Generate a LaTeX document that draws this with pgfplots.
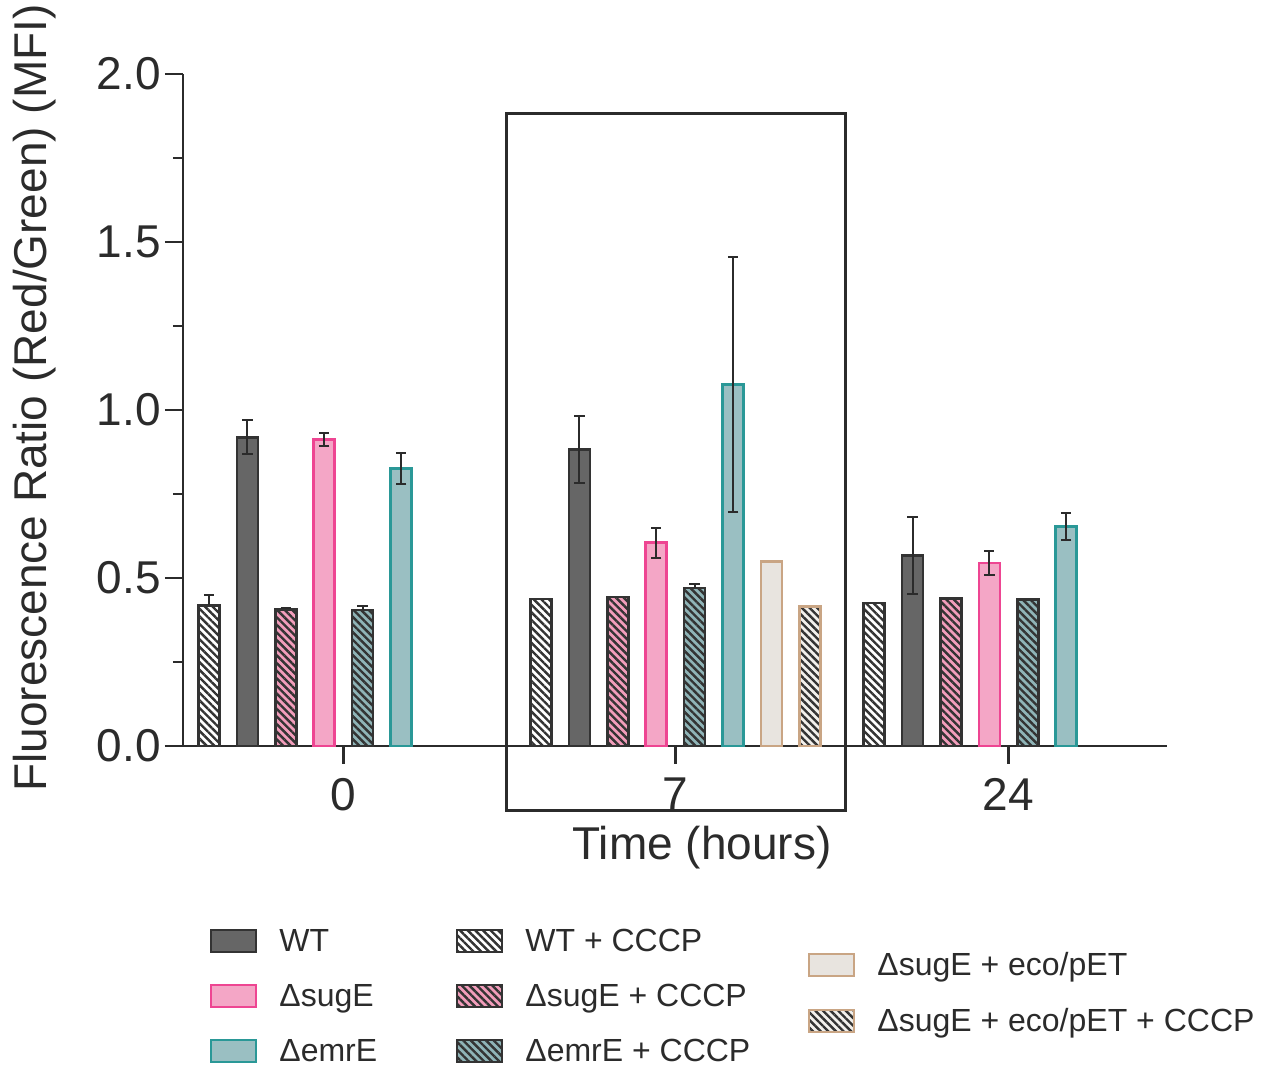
\documentclass[border=0pt]{standalone}
\usepackage{pgfplots}
\pgfplotsset{compat=1.18}
\usetikzlibrary{patterns.meta}
\usepackage{fontspec}
\setmainfont{Liberation Sans}
\definecolor{axc}{HTML}{2B2B2B}
\definecolor{wtfill}{HTML}{666666}
\definecolor{wtedge}{HTML}{333333}
\definecolor{sgfill}{HTML}{F4A6C6}
\definecolor{sgedge}{HTML}{EE4592}
\definecolor{emfill}{HTML}{9ABFC2}
\definecolor{emedge}{HTML}{2A9897}
\definecolor{sgcfill}{HTML}{F29DBB}
\definecolor{emcfill}{HTML}{8FB4B7}
\definecolor{ecofill}{HTML}{E8E4DF}
\definecolor{ecoedge}{HTML}{C9A584}
\definecolor{ecocfill}{HTML}{F2F0EC}
\tikzset{hatch/.style={pattern={Lines[angle=-45,distance=2.7pt,line width=1.2pt]}, pattern color=#1}}
\pgfplotsset{
  mybar/.style={ybar, bar width=10.5pt, bar shift=0pt, line width=1.3pt},
  myerr/.style={draw=none, mark=none, forget plot,
    error bars/.cd, y dir=#1, y explicit,
    error bar style={draw=axc, line width=1pt},
    error mark options={draw=axc, rotate=90, mark size=2.6pt, line width=1pt}},
}
\begin{document}
\begin{tikzpicture}
\begin{axis}[
  x=0.5pt, y=168pt,
  xmin=183, xmax=1167, ymin=0, ymax=2,
  axis lines=left,
  axis line style={-, line width=1.4pt, draw=axc},
  clip=false,
  xtick={343.5,675.5,1008.5}, xticklabels={0,7,24},
  ytick={0,0.5,1,1.5,2}, yticklabels={0.0,0.5,1.0,1.5,2.0},
  minor ytick={0.25,0.75,1.25,1.75},
  tick align=outside,
  major tick length=9pt, minor tick length=5pt,
  every tick/.style={line width=1.4pt, draw=axc},
  ticklabel style={font=\fontsize{23}{27}\selectfont, text=axc},
  xticklabel style={yshift=-3.5pt},
  yticklabel style={xshift=1.5pt},
  xlabel={Time (hours)},
  ylabel={Fluorescence Ratio (Red/Green) (MFI)},
  label style={font=\fontsize{23}{27}\selectfont, text=axc},
  xlabel style={at={(axis description cs:0.5274,-0.1518)}, anchor=center},
  ylabel style={at={(axis description cs:-0.1504,0.5179)}, anchor=center},
]
% WT + CCCP
\addplot[mybar, draw=wtedge, preaction={fill=white}, hatch=wtedge]
  coordinates {(209.1,0.419) (541.1,0.437) (874.1,0.426)};
% WT
\addplot[mybar, draw=wtedge, fill=wtfill]
  coordinates {(247.5,0.919) (579.5,0.883) (912.5,0.567)};
% dsugE + CCCP
\addplot[mybar, draw=wtedge, preaction={fill=sgcfill}, hatch=wtedge]
  coordinates {(285.9,0.407) (617.9,0.444) (950.9,0.439)};
% dsugE
\addplot[mybar, draw=sgedge, fill=sgfill]
  coordinates {(324.3,0.913) (656.3,0.605) (989.3,0.545)};
% demrE + CCCP
\addplot[mybar, draw=wtedge, preaction={fill=emcfill}, hatch=wtedge]
  coordinates {(362.7,0.405) (694.7,0.470) (1027.7,0.436)};
% demrE
\addplot[mybar, draw=emedge, fill=emfill]
  coordinates {(401.1,0.826) (733.1,1.076) (1066.1,0.653)};
% dsugE + eco/pET
\addplot[mybar, draw=ecoedge, fill=ecofill]
  coordinates {(771.5,0.549)};
% dsugE + eco/pET + CCCP
\addplot[mybar, draw=ecoedge, preaction={fill=ecocfill}, hatch=wtedge]
  coordinates {(809.9,0.415)};
% error bars
\addplot[myerr=both] coordinates {
  (247.5,0.919) +- (0,0.05)
  (579.5,0.883) +- (0,0.1)
  (912.5,0.567) +- (0,0.115)
  (324.3,0.913) +- (0,0.02)
  (656.3,0.605) +- (0,0.045)
  (989.3,0.545) +- (0,0.036)
  (401.1,0.826) +- (0,0.045)
  (733.1,1.076) +- (0,0.38)
  (1066.1,0.653) +- (0,0.04)
};
\addplot[myerr=plus] coordinates {
  (209.1,0.419) +- (0,0.03)
  (285.9,0.407) +- (0,0.005)
  (362.7,0.405) +- (0,0.013)
  (694.7,0.470) +- (0,0.011)
};
\draw[line width=1.4pt, axc] (axis cs:165,0) -- (axis cs:183,0);
\draw[line width=1.5pt, axc] (axis cs:506.5,1.881) rectangle (axis cs:846,-0.1905);
\coordinate (PX) at (axis cs:0,2.22024);
\end{axis}
\begin{scope}[shift={(PX)}, x=0.5pt, y=-0.5pt,
  lg/.style={anchor=base west, inner sep=0pt, text=axc, font=\fontsize{16}{19}\selectfont},
  sw/.style={line width=1.4pt}]
  % column 1
  \draw[sw, draw=wtedge, fill=wtfill] (211,930) rectangle (256,952);
  \node[lg] at (279,952) {WT};
  \draw[sw, draw=sgedge, fill=sgfill] (211,985) rectangle (256,1007);
  \node[lg] at (279,1007) {ΔsugE};
  \draw[sw, draw=emedge, fill=emfill] (211,1040) rectangle (256,1062);
  \node[lg] at (279,1062) {ΔemrE};
  % column 2
  \draw[sw, draw=wtedge, preaction={fill=white}, hatch=wtedge] (457,930) rectangle (502,952);
  \node[lg] at (525,952) {WT + CCCP};
  \draw[sw, draw=wtedge, preaction={fill=sgcfill}, hatch=wtedge] (457,985) rectangle (502,1007);
  \node[lg] at (525,1007) {ΔsugE + CCCP};
  \draw[sw, draw=wtedge, preaction={fill=emcfill}, hatch=wtedge] (457,1040) rectangle (502,1062);
  \node[lg] at (525,1062) {ΔemrE + CCCP};
  % column 3
  \draw[sw, draw=ecoedge, fill=ecofill] (809,954) rectangle (854,976);
  \node[lg] at (877,976) {ΔsugE + eco/pET};
  \draw[sw, draw=ecoedge, preaction={fill=ecocfill}, hatch=wtedge] (809,1010) rectangle (854,1032);
  \node[lg] at (877,1032) {ΔsugE + eco/pET + CCCP};
\end{scope}
\pgfresetboundingbox
\path[use as bounding box, shift={(PX)}, x=0.5pt, y=-0.5pt] (0,0) rectangle (1266,1066);
\end{tikzpicture}
\end{document}
